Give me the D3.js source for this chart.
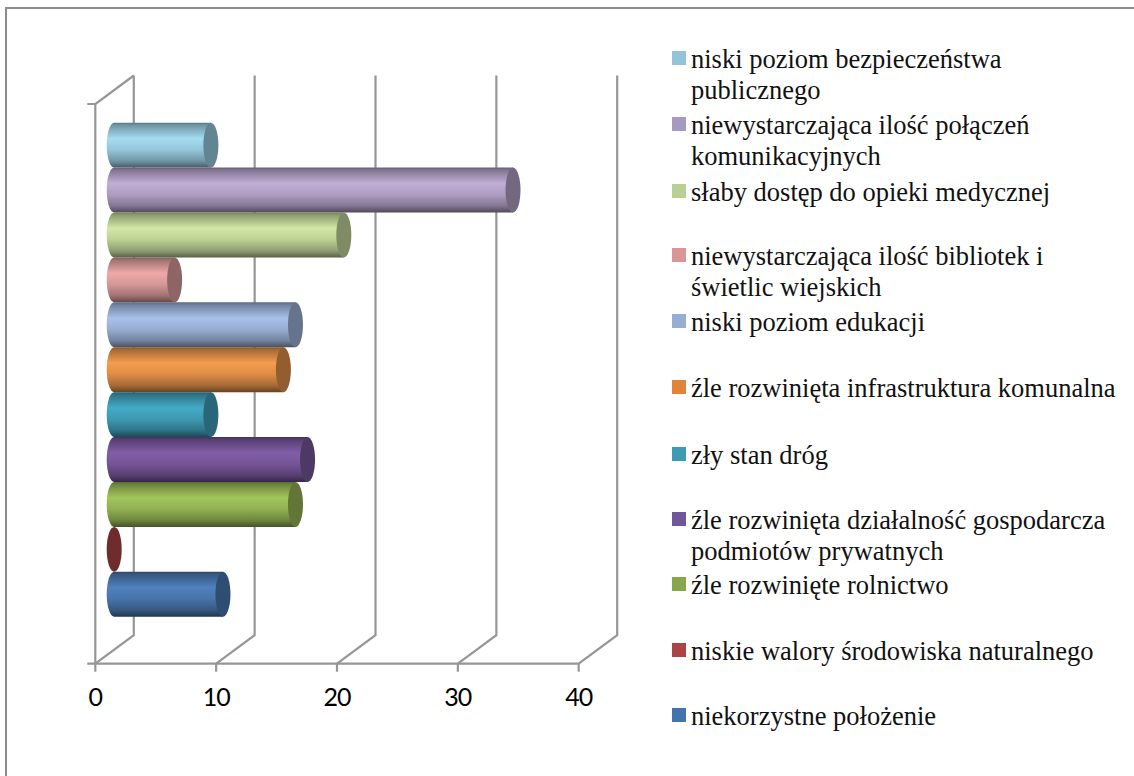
<!DOCTYPE html>
<html><head><meta charset="utf-8">
<script src="https://cdn.jsdelivr.net/npm/d3@7/dist/d3.min.js"></script>
<style>html,body{margin:0;padding:0;background:#fff}svg{display:block}</style>
</head><body><svg id="c" width="1134" height="776"></svg>
<script>
const categories = ["niski poziom bezpieczeństwa publicznego","niewystarczająca ilość połączeń komunikacyjnych","słaby dostęp do opieki medycznej","niewystarczająca ilość bibliotek i świetlic wiejskich","niski poziom edukacji","źle rozwinięta infrastruktura komunalna","zły stan dróg","źle rozwinięta działalność gospodarcza podmiotów prywatnych","źle rozwinięte rolnictwo","niskie walory środowiska naturalnego","niekorzystne położenie"];
const values = [8,33,19,5,15,14,8,16,15,0,9];
const baseColors = ["#a5dcf2","#c1aed6","#d2e8a6","#eda9a8","#a8c1ea","#f59d4e","#44aac6","#825da8","#a2c55c","#b9494a","#4f81bd"];
const legendColors = ["#93c4d8","#a899c0","#b9cf94","#d99694","#95aed3","#e2833a","#3f9bb5","#70579a","#87a84a","#ab4442","#4573ab"];
const legendLines = [["niski poziom bezpieczeństwa","publicznego"],["niewystarczająca ilość połączeń","komunikacyjnych"],["słaby dostęp do opieki medycznej"],["niewystarczająca ilość bibliotek i","świetlic wiejskich"],["niski poziom edukacji"],["źle rozwinięta infrastruktura komunalna"],["zły stan dróg"],["źle rozwinięta działalność gospodarcza","podmiotów prywatnych"],["źle rozwinięte rolnictwo"],["niskie walory środowiska naturalnego"],["niekorzystne położenie"]];
const legendRowY = [59,125,192,256,322,388,455,520,585,651,716];
const ticks = [0,10,20,30,40];

const svg = d3.select("#c");
const x = d3.scaleLinear().domain([0,40]).range([95.3,578.7]);
const y = d3.scaleBand().domain(categories).range([122.7,616.7]);
const depthX = 38.5, depthY = 28.5, wallTop = 104, wallBottom = 663.7, barShift = 18.9;
const grey = "#969696";

svg.append("path").attr("d","M1134,8H6V776").attr("fill","none").attr("stroke","#8c8c8c").attr("stroke-width",2);

const defs = svg.append("defs");
categories.forEach((c,i)=>{
  const col = d3.color(baseColors[i]);
  const g = defs.append("linearGradient").attr("id","g"+i).attr("x1",0).attr("x2",0).attr("y1",0).attr("y2",1);
  [[0,.55],[.06,.68],[.35,1],[.6,.9],[.85,.68],[1,.42]].forEach(([o,k])=>{
    g.append("stop").attr("offset",o).attr("stop-color",d3.rgb(col.r*k,col.g*k,col.b*k).formatHex());
  });
});

const grid = svg.append("g").attr("fill","none").attr("stroke",grey).attr("stroke-width",2.2);
ticks.forEach(t=>{
  const px = x(t);
  grid.append("path").attr("d",`M${px},${wallBottom}L${px+depthX},${wallBottom-depthY}V${wallTop-depthY}`);
});
grid.append("path").attr("d",`M${x(0)},${wallBottom}V${wallTop}L${x(0)+depthX},${wallTop-depthY}`);
grid.append("path").attr("d",`M${x(0)-8},${wallTop}H${x(0)}M${x(0)-8},${wallBottom}H${x(40)}`);
ticks.forEach(t=>grid.append("path").attr("d",`M${x(t)},${wallBottom}v8`));

const rx = 7.5;
categories.forEach((c,i)=>{
  const x0 = x(0)+barShift, x1 = x(values[i])+barShift, yt = y(c), h = y.bandwidth(), ym = yt+h/2;
  const g = svg.append("g");
  if(values[i]>0){
    g.append("path").attr("d",`M${x0},${yt}H${x1}V${yt+h}H${x0}A${rx},${h/2} 0 0 1 ${x0},${yt}Z`).attr("fill",`url(#g${i})`);
  }
  const cap = d3.color(baseColors[i]);
  g.append("ellipse").attr("cx",x1).attr("cy",ym).attr("rx",rx).attr("ry",h/2)
    .attr("fill",d3.rgb(cap.r*.6,cap.g*.6,cap.b*.6).formatHex());
});

svg.append("g").attr("font-family","Lato, sans-serif").attr("font-size",25).attr("letter-spacing",-1).attr("fill","#000").attr("text-anchor","middle")
  .selectAll("text").data(ticks).join("text").attr("x",d=>x(d)).attr("y",706).text(d=>d);

const leg = svg.append("g").attr("font-family","'Liberation Serif', serif").attr("font-size",26.5).attr("fill","#111");
categories.forEach((c,i)=>{
  const ry = legendRowY[i];
  leg.append("rect").attr("x",672).attr("y",ry-8).attr("width",14).attr("height",14).attr("fill",legendColors[i]);
  legendLines[i].forEach((l,j)=>{
    leg.append("text").attr("x",691).attr("y",ry+9+j*31).text(l);
  });
});
</script></body></html>
